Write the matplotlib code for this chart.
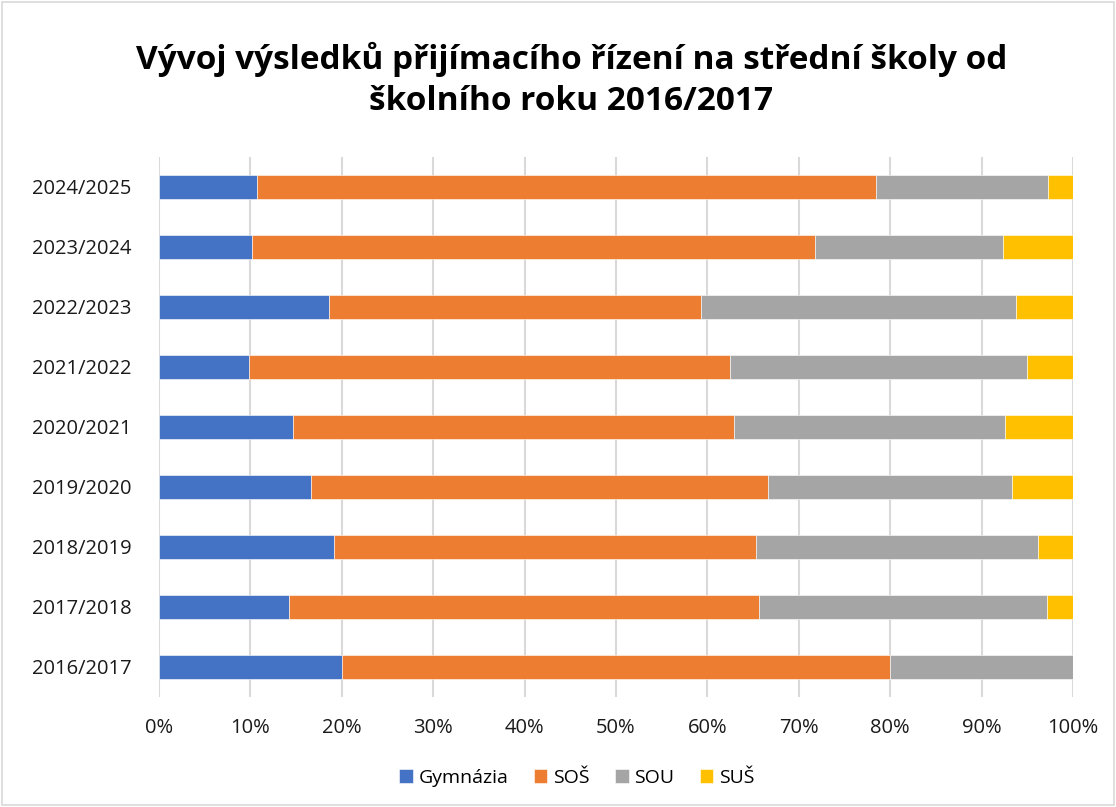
import matplotlib
matplotlib.use("Agg")
import matplotlib.pyplot as plt
from matplotlib.ticker import PercentFormatter
from matplotlib.patches import Rectangle

years = ["2016/2017", "2017/2018", "2018/2019", "2019/2020", "2020/2021",
         "2021/2022", "2022/2023", "2023/2024", "2024/2025"]
gymnazia = [20.0, 14.2, 19.1, 16.6, 14.7, 9.8, 18.6, 10.2, 10.7]
sos = [60.0, 51.5, 46.2, 50.0, 48.2, 52.7, 40.7, 61.6, 67.7]
sou = [20.0, 31.5, 30.9, 26.7, 29.7, 32.5, 34.5, 20.5, 18.9]
sus = [0.0, 2.8, 3.8, 6.7, 7.4, 5.0, 6.2, 7.7, 2.7]

series = [("Gymnázia", gymnazia, "#4472C4"),
          ("SOŠ", sos, "#ED7D31"),
          ("SOU", sou, "#A5A5A5"),
          ("SUŠ", sus, "#FFC000")]

plt.rcParams['font.family'] = ['Open Sans', 'DejaVu Sans']

fig = plt.figure(figsize=(11.16, 8.07), dpi=100)
ax = fig.add_axes([159/1116, 1-697/807, (1073-159)/1116, (697-157)/807])

left = [0.0]*len(years)
for name, vals, col in series:
    ax.barh(range(len(years)), vals, left=left, height=0.4, color=col,
            label=name, edgecolor="white", linewidth=0.4, zorder=3)
    left = [l + v for l, v in zip(left, vals)]

ax.set_xlim(0, 100)
ax.set_ylim(-0.5, len(years) - 0.5)
ax.set_xticks(range(0, 101, 10))
ax.xaxis.set_major_formatter(PercentFormatter(decimals=0))
ax.set_yticks(range(len(years)))
ax.set_yticklabels(years)
ax.tick_params(axis='both', length=0, labelsize=14.5, colors="#1a1a1a")
ax.tick_params(axis='y', pad=20)
ax.tick_params(axis='x', pad=15)
ax.grid(axis='x', color="#d9d9d9", linewidth=1.5, zorder=0)
for s in ax.spines.values():
    s.set_visible(False)

fig.text(0.512, 1-80/807, "Vývoj výsledků přijímacího řízení na střední školy od\nškolního roku 2016/2017",
         ha="center", va="center", fontsize=24, fontweight="bold", linespacing=1.35)

fig.legend(loc="center", bbox_to_anchor=(0.517, 1-778/807), ncol=4, frameon=False,
           fontsize=14, handlelength=0.7, handleheight=0.7, handletextpad=0.3,
           columnspacing=1.3)

fig.patches.append(Rectangle((0.002, 0.002), 0.996, 0.996, transform=fig.transFigure,
                             fill=False, edgecolor="#d9d9d9", linewidth=1.2))

fig.savefig("out.png", dpi=100)
